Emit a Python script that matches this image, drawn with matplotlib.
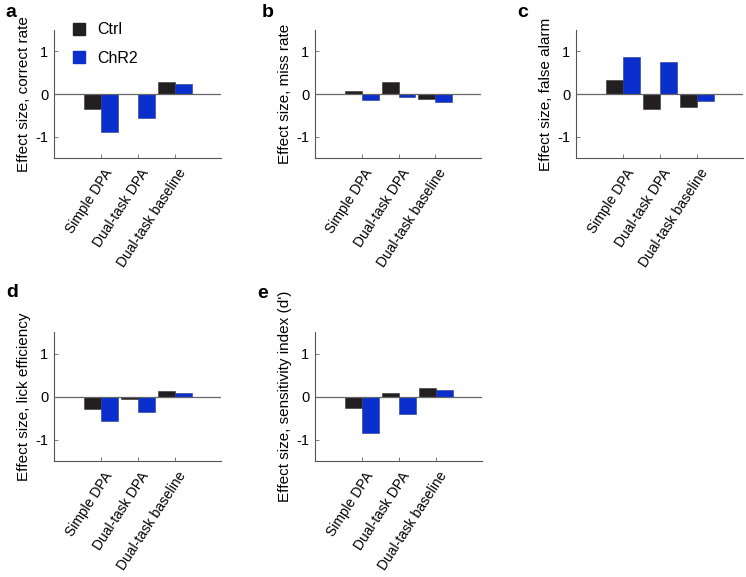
import matplotlib
matplotlib.use("Agg")
import matplotlib.pyplot as plt
import matplotlib.transforms as mtransforms
import numpy as np
from matplotlib.patches import Patch

plt.rcParams['font.family'] = ['Liberation Sans', 'DejaVu Sans']

categories = ["Simple DPA", "Dual-task DPA", "Dual-task baseline"]
series_names = ["Ctrl", "ChR2"]

ctrl_correct = [-0.35, 0.01, 0.29]
chr2_correct = [-0.89, -0.57, 0.23]
ctrl_miss = [0.08, 0.29, -0.11]
chr2_miss = [-0.13, -0.08, -0.19]
ctrl_fa = [0.33, -0.34, -0.30]
chr2_fa = [0.86, 0.75, -0.17]
ctrl_lick = [-0.29, -0.06, 0.12]
chr2_lick = [-0.57, -0.36, 0.09]
ctrl_dprime = [-0.27, 0.07, 0.19]
chr2_dprime = [-0.86, -0.41, 0.14]

ylabels = ["Effect size, correct rate", "Effect size, miss rate",
           "Effect size, false alarm", "Effect size, lick efficiency",
           "Effect size, sensitivity index (d')"]
panel_letters = ["a", "b", "c", "d", "e"]
yticks = [-1, 0, 1]

ctrl_color = "#231f20"
chr2_color = "#0b2fcc"

W, H = 746, 577
fig = plt.figure(figsize=(W / 100, H / 100), dpi=100)

def frac_rect(left, top, right, bottom):
    return [left / W, 1 - bottom / H, (right - left) / W, (bottom - top) / H]

rects = [
    frac_rect(54, 30, 221, 158),
    frac_rect(315, 30, 481, 158),
    frac_rect(576, 30, 743, 158),
    frac_rect(54, 332, 221, 461),
    frac_rect(315, 332, 482, 461),
]
data = [(ctrl_correct, chr2_correct), (ctrl_miss, chr2_miss), (ctrl_fa, chr2_fa),
        (ctrl_lick, chr2_lick), (ctrl_dprime, chr2_dprime)]
letter_pos = [(5, 17), (262, 17), (517, 17), (6, 297), (257, 298)]

x = np.arange(1, len(categories) + 1)
bw = 0.46
offset = mtransforms.ScaledTranslation(8 / 100, -12 / 100, fig.dpi_scale_trans)
for i, (rect, (c, r)) in enumerate(zip(rects, data)):
    ax = fig.add_axes(rect)
    ax.bar(x - bw / 2, c, width=bw, color=ctrl_color, edgecolor="#333333", linewidth=0.4, zorder=2)
    ax.bar(x + bw / 2, r, width=bw, color=chr2_color, edgecolor="#2a3a80", linewidth=0.4, zorder=2)
    ax.axhline(0, color="#666666", lw=0.9, zorder=3)
    ax.set_xlim(-0.27, 4.24)
    ax.set_ylim(-1.5, 1.5)
    ax.set_yticks(yticks)
    ax.set_yticklabels([str(t) for t in yticks], fontsize=10.5)
    ax.set_xticks(x)
    ax.set_xticklabels([])
    trans = mtransforms.blended_transform_factory(ax.transData, ax.transAxes) + offset
    for xi, lab in zip(x, categories):
        ax.text(xi, 0, lab, transform=trans, rotation=57, ha="right", va="center",
                rotation_mode="anchor", fontsize=10, clip_on=False)
    ax.tick_params(direction="in", length=3, width=0.6, color="#666666", pad=4)
    for s in ["top", "right"]:
        ax.spines[s].set_visible(False)
    for s in ["left", "bottom"]:
        ax.spines[s].set_color("#555555")
        ax.spines[s].set_linewidth(0.8)
    ax.set_ylabel(ylabels[i], fontsize=11)
    ax.yaxis.set_label_coords(-0.14, 0.5)
    fig.text(letter_pos[i][0] / W, 1 - letter_pos[i][1] / H, panel_letters[i],
             fontsize=14, fontweight="bold", va="baseline", ha="left")
    if i == 0:
        handles = [Patch(facecolor=ctrl_color, edgecolor=ctrl_color),
                   Patch(facecolor=chr2_color, edgecolor=chr2_color)]
        ax.legend(handles, series_names, loc="upper left", bbox_to_anchor=(0.075, 1.11),
                  frameon=False, handlelength=0.75, handleheight=0.75, fontsize=11.5,
                  labelspacing=0.85, handletextpad=0.8, borderaxespad=0)

fig.savefig("out.png", dpi=100)
